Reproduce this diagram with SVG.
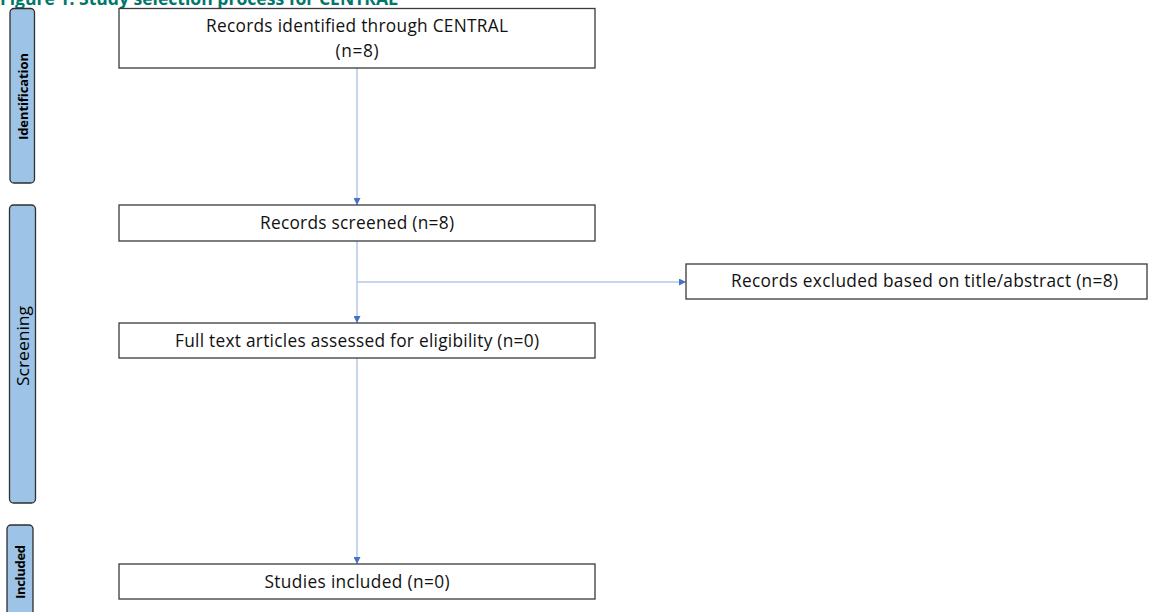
<svg xmlns="http://www.w3.org/2000/svg" width="1149" height="612" viewBox="0 0 1149 612">
  <style>
    .bg { fill: #ffffff; }
    .title { font-family: "Open Sans", "Liberation Sans", sans-serif; font-weight: bold; font-size: 17px; fill: #00776b; }
    .phase rect { fill: #9dc3e6; stroke: #2f2f2f; stroke-width: 1.3; }
    .phase text { font-family: "Open Sans", "Liberation Sans", sans-serif; font-size: 13px; fill: #000000; text-anchor: middle; }
    .phase text.b { font-weight: bold; }
    .phase text.big { font-size: 15.5px; }
    .box rect { fill: #ffffff; stroke: #3a3a3a; stroke-width: 1.3; }
    .box text { font-family: "Open Sans", "Liberation Sans", sans-serif; font-size: 17.3px; fill: #111111; text-anchor: middle; }
    .conn { stroke: #b4c7e7; stroke-width: 1.5; fill: none; marker-end: url(#arrow); }
  </style>
  <defs>
    <marker id="arrow" viewBox="0 0 10 10" refX="10" refY="5" markerWidth="7" markerHeight="7" markerUnits="userSpaceOnUse" orient="auto">
      <path d="M0,0 L10,5 L0,10 Z" fill="#4472c4"/>
    </marker>
  </defs>
  <rect class="bg" x="0" y="0" width="1149" height="612"/>

  <!-- caption, clipped at the top edge -->
  <text class="title" x="0" y="5" textLength="398" lengthAdjust="spacingAndGlyphs">Figure 1: Study selection process for CENTRAL</text>

  <!-- phase labels -->
  <g id="phase-identification" class="phase">
    <rect x="10" y="8.5" width="24.5" height="174.5" rx="4"/>
    <text class="b" transform="translate(27.5,96.5) rotate(-90)" textLength="87">Identification</text>
  </g>
  <g id="phase-screening" class="phase">
    <rect x="9.5" y="205" width="26" height="298" rx="4"/>
    <text class="big" transform="translate(28.5,346) rotate(-90)" textLength="80" lengthAdjust="spacingAndGlyphs">Screening</text>
  </g>
  <g id="phase-included" class="phase">
    <rect x="7" y="525" width="26" height="100" rx="4"/>
    <text class="b" transform="translate(25,572) rotate(-90)" textLength="54">Included</text>
  </g>

  <!-- connectors -->
  <g id="connectors">
    <line class="conn" x1="357" y1="68" x2="357" y2="205"/>
    <line class="conn" x1="357" y1="241" x2="357" y2="323"/>
    <line class="conn" x1="357" y1="282" x2="686" y2="282"/>
    <line class="conn" x1="357" y1="358" x2="357" y2="564"/>
  </g>

  <!-- flow boxes -->
  <g id="records-identified" class="box">
    <rect x="119" y="8.5" width="476" height="59.5"/>
    <text x="357" y="32" textLength="302">Records identified through CENTRAL</text>
    <text x="357" y="57" textLength="43">(n=8)</text>
  </g>
  <g id="records-screened" class="box">
    <rect x="119" y="205" width="476" height="36"/>
    <text x="357" y="228.5" textLength="194">Records screened (n=8)</text>
  </g>
  <g id="records-excluded" class="box">
    <rect x="686" y="264" width="461" height="35"/>
    <text x="924.5" y="287" textLength="387">Records excluded based on title/abstract (n=8)</text>
  </g>
  <g id="full-text-assessed" class="box">
    <rect x="119" y="323" width="476" height="35"/>
    <text x="357" y="346.5" textLength="364">Full text articles assessed for eligibility (n=0)</text>
  </g>
  <g id="studies-included" class="box">
    <rect x="119" y="564" width="476" height="35"/>
    <text x="357" y="587.5" textLength="185">Studies included (n=0)</text>
  </g>
</svg>
